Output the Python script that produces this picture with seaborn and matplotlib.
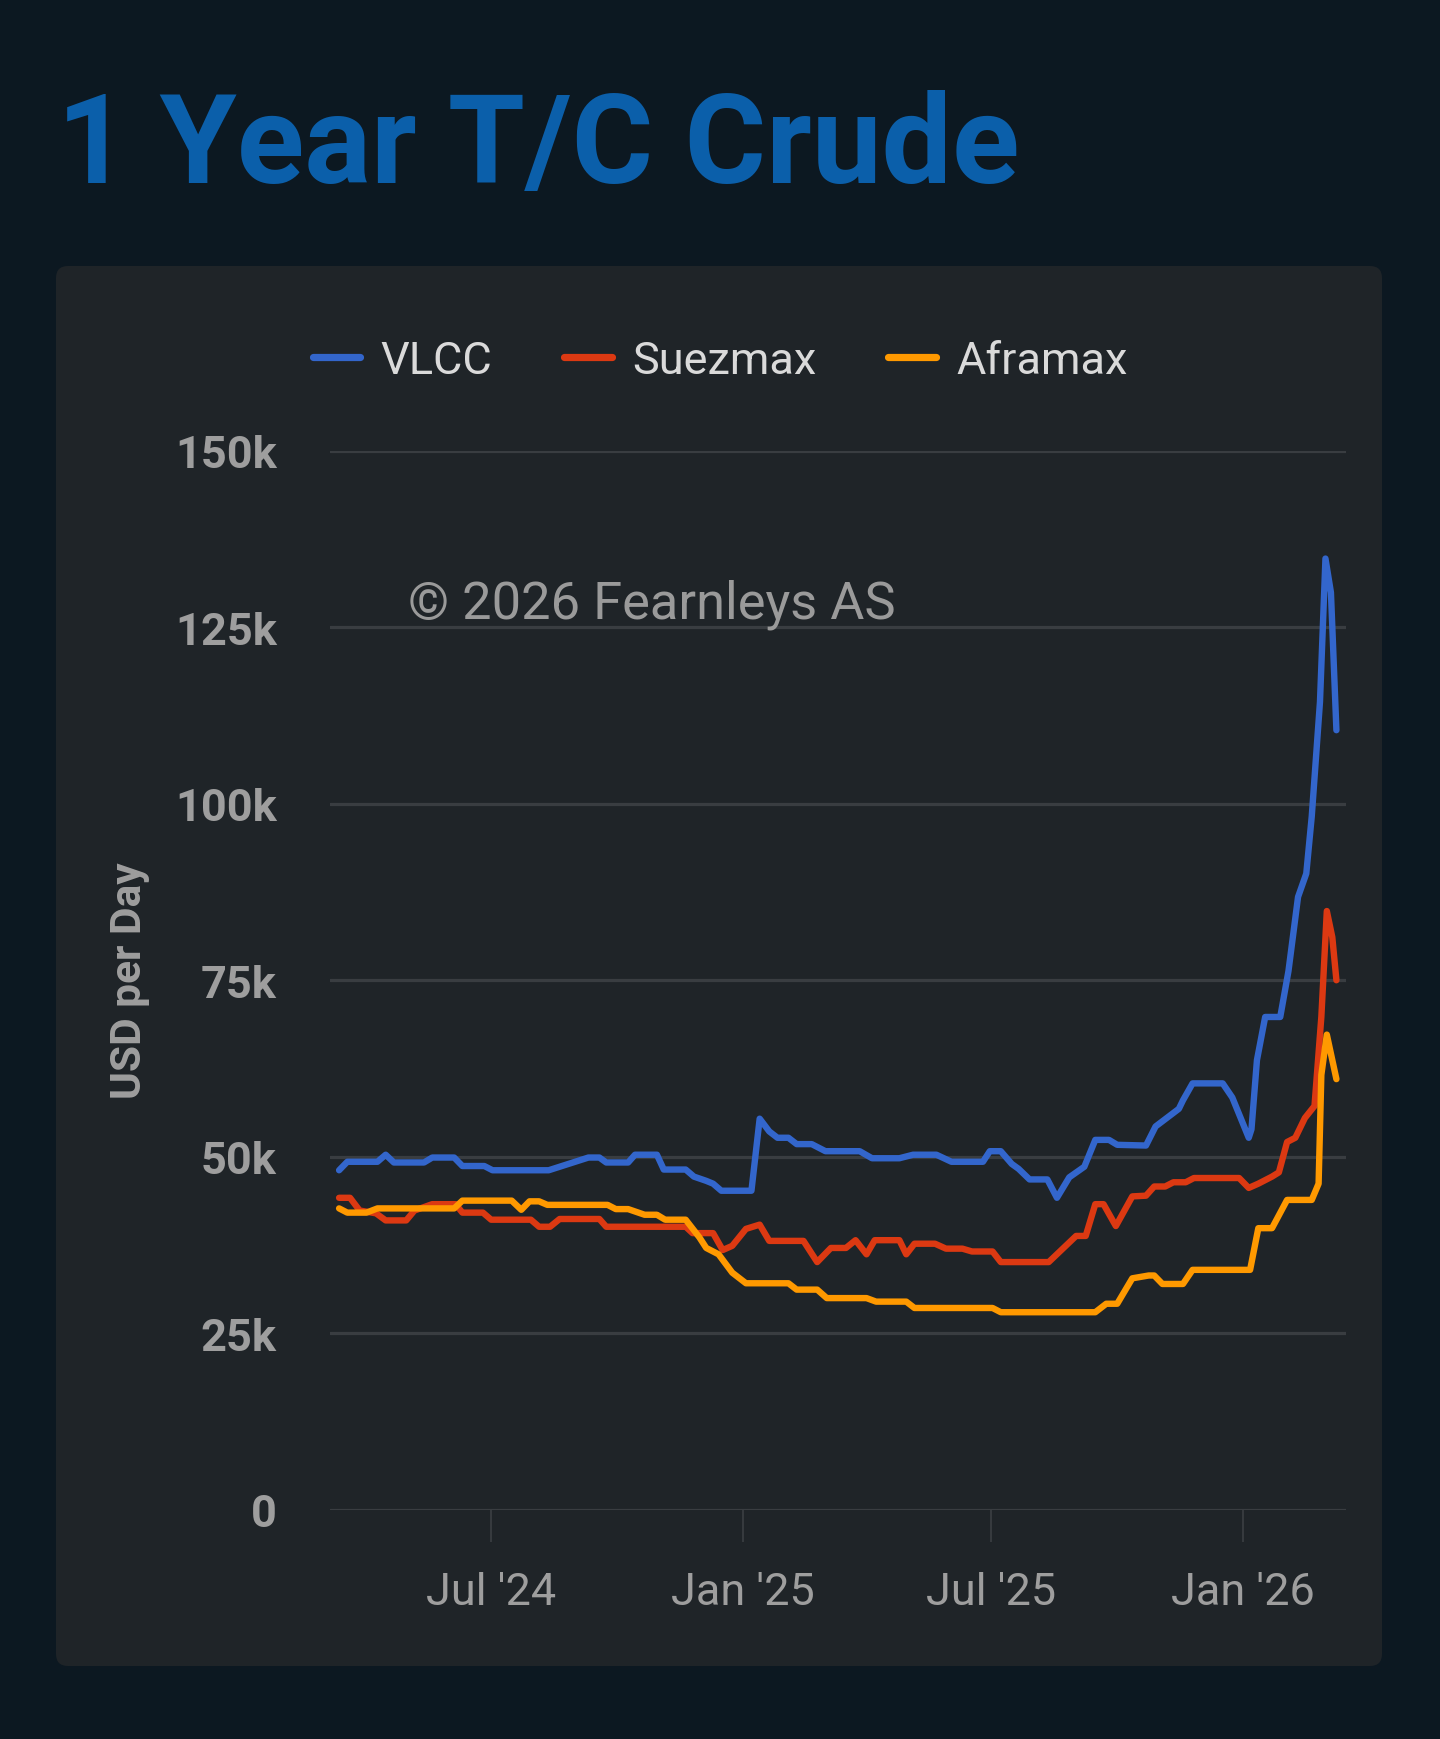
import pandas as pd
import numpy as np
import matplotlib
matplotlib.use("Agg")
import matplotlib.pyplot as plt
from matplotlib.patches import FancyBboxPatch
import seaborn as sns

# ─────────────────────────────────────────────
# DATA (USD per day, thousands)
# ─────────────────────────────────────────────
vlcc_dates = [
    "2024-03-12", "2024-03-18", "2024-04-09", "2024-04-15", "2024-04-21", "2024-05-13",
    "2024-05-19", "2024-06-04", "2024-06-10", "2024-06-26", "2024-07-02", "2024-08-12",
    "2024-09-10", "2024-09-18", "2024-09-23", "2024-10-09", "2024-10-14", "2024-10-30",
    "2024-11-04", "2024-11-20", "2024-11-26", "2024-12-05", "2024-12-10", "2024-12-16",
    "2025-01-07", "2025-01-13", "2025-01-20", "2025-01-26", "2025-02-03", "2025-02-09",
    "2025-02-20", "2025-03-02", "2025-03-27", "2025-04-05", "2025-04-25", "2025-05-05",
    "2025-05-22", "2025-06-02", "2025-06-25", "2025-06-30", "2025-07-08", "2025-07-16",
    "2025-07-21", "2025-07-29", "2025-08-11", "2025-08-18", "2025-08-27", "2025-09-07",
    "2025-09-15", "2025-09-25", "2025-10-01", "2025-10-22", "2025-10-29", "2025-11-15",
    "2025-11-18", "2025-11-25", "2025-12-17", "2025-12-24", "2026-01-05", "2026-01-07",
    "2026-01-11", "2026-01-17", "2026-01-28", "2026-02-03", "2026-02-10", "2026-02-16",
    "2026-02-20", "2026-02-26", "2026-03-02", "2026-03-06", "2026-03-10",
]
vlcc_values = [
    48.1, 49.3, 49.3, 50.3, 49.2, 49.2, 49.9, 49.9, 48.7, 48.7, 48.1, 48.1,
    49.9, 49.9, 49.2, 49.2, 50.3, 50.3, 48.2, 48.2, 47.2, 46.6, 46.2, 45.2,
    45.2, 55.4, 53.6, 52.7, 52.7, 51.8, 51.8, 50.8, 50.8, 49.8, 49.8, 50.3,
    50.3, 49.3, 49.3, 50.8, 50.8, 49.0, 48.3, 46.8, 46.8, 44.2, 47.1, 48.6,
    52.4, 52.4, 51.7, 51.6, 54.3, 56.8, 58.0, 60.4, 60.4, 58.4, 52.7, 53.9,
    63.7, 69.8, 69.8, 76.3, 86.8, 90.1, 98.2, 114.4, 134.7, 129.9, 110.4,
]

suezmax_dates = [
    "2024-03-12", "2024-03-20", "2024-03-27", "2024-04-08", "2024-04-15", "2024-04-30",
    "2024-05-06", "2024-05-19", "2024-06-05", "2024-06-10", "2024-06-25", "2024-07-01",
    "2024-07-30", "2024-08-05", "2024-08-13", "2024-08-20", "2024-09-18", "2024-09-23",
    "2024-11-20", "2024-11-25", "2024-12-10", "2024-12-17", "2024-12-24", "2025-01-03",
    "2025-01-13", "2025-01-20", "2025-02-14", "2025-02-24", "2025-03-06", "2025-03-17",
    "2025-03-24", "2025-04-01", "2025-04-07", "2025-04-25", "2025-04-30", "2025-05-06",
    "2025-05-21", "2025-05-29", "2025-06-10", "2025-06-17", "2025-07-02", "2025-07-08",
    "2025-08-12", "2025-09-01", "2025-09-08", "2025-09-15", "2025-09-21", "2025-09-30",
    "2025-10-12", "2025-10-22", "2025-10-28", "2025-11-05", "2025-11-11", "2025-11-20",
    "2025-11-26", "2025-12-29", "2026-01-05", "2026-01-12", "2026-01-22", "2026-01-27",
    "2026-02-02", "2026-02-08", "2026-02-15", "2026-02-22", "2026-02-27", "2026-03-03",
    "2026-03-07", "2026-03-10",
]
suezmax_values = [
    44.2, 44.2, 42.4, 42.0, 41.0, 41.0, 42.4, 43.3, 43.3, 42.1, 42.1, 41.1,
    41.1, 40.1, 40.1, 41.2, 41.2, 40.1, 40.1, 39.2, 39.2, 36.8, 37.4, 39.8,
    40.4, 38.1, 38.1, 35.1, 37.1, 37.1, 38.2, 36.2, 38.2, 38.2, 36.2, 37.7,
    37.7, 37.0, 37.0, 36.6, 36.6, 35.1, 35.1, 38.8, 38.8, 43.3, 43.3, 40.2,
    44.4, 44.5, 45.8, 45.8, 46.4, 46.4, 47.0, 47.0, 45.6, 46.2, 47.2, 47.8,
    52.1, 52.7, 55.5, 57.2, 69.8, 84.8, 81.1, 75.0,
]

aframax_dates = [
    "2024-03-12", "2024-03-18", "2024-04-01", "2024-04-09", "2024-06-04", "2024-06-10",
    "2024-07-16", "2024-07-23", "2024-07-29", "2024-08-05", "2024-08-11", "2024-09-24",
    "2024-09-30", "2024-10-09", "2024-10-21", "2024-10-30", "2024-11-05", "2024-11-20",
    "2024-11-30", "2024-12-05", "2024-12-14", "2024-12-24", "2025-01-03", "2025-02-03",
    "2025-02-09", "2025-02-24", "2025-03-03", "2025-04-01", "2025-04-08", "2025-04-30",
    "2025-05-06", "2025-07-02", "2025-07-08", "2025-09-15", "2025-09-23", "2025-10-01",
    "2025-10-12", "2025-10-24", "2025-10-28", "2025-11-03", "2025-11-18", "2025-11-25",
    "2026-01-06", "2026-01-12", "2026-01-22", "2026-02-02", "2026-02-20", "2026-02-25",
    "2026-02-27", "2026-03-03", "2026-03-10",
]
aframax_values = [
    42.7, 42.1, 42.1, 42.7, 42.7, 43.8, 43.8, 42.5, 43.7, 43.7, 43.2, 43.2,
    42.6, 42.6, 41.8, 41.8, 41.1, 41.1, 38.6, 37.1, 36.2, 33.6, 32.1, 32.1,
    31.2, 31.2, 30.0, 30.0, 29.5, 29.5, 28.6, 28.6, 28.0, 28.0, 29.2, 29.2,
    32.8, 33.2, 33.2, 32.0, 32.0, 34.0, 34.0, 39.9, 39.9, 43.9, 43.9, 46.2,
    61.6, 67.3, 61.0,
]

series_names = ["VLCC", "Suezmax", "Aframax"]
series_colors = ["#3366CC", "#DC3912", "#FF9900"]
tick_dates = ["2024-07-01", "2025-01-01", "2025-07-01", "2026-01-01"]
tick_labels = ["Jul '24", "Jan '25", "Jul '25", "Jan '26"]
y_ticks = [0, 25000, 50000, 75000, 100000, 125000, 150000]

# ─────────────────────────────────────────────
# LONG FORMAT
# ─────────────────────────────────────────────
frames = []
for name, d, v in zip(series_names,
                      [vlcc_dates, suezmax_dates, aframax_dates],
                      [vlcc_values, suezmax_values, aframax_values]):
    frames.append(pd.DataFrame({"date": pd.to_datetime(d),
                                "rate": np.array(v) * 1000,
                                "vessel": name}))
df = pd.concat(frames, ignore_index=True)

# ─────────────────────────────────────────────
# STYLE
# ─────────────────────────────────────────────
BG = "#0C1821"
CARD = "#1F2428"
GRID = "#393D41"
TICK_TXT = "#9E9E9E"

sns.set_theme(style="dark")
plt.rcParams["font.family"] = ["Roboto", "DejaVu Sans"]

fig = plt.figure(figsize=(14.4, 17.4), dpi=100, facecolor=BG)

# rounded card behind the chart
card = FancyBboxPatch((0.56, 0.73), 13.26, 14.0,
                      boxstyle="round,pad=0,rounding_size=0.12",
                      transform=fig.dpi_scale_trans,
                      facecolor=CARD, edgecolor="none", zorder=-5)
fig.patches.append(card)

fig.text(0.0396, 1 - 183 / 1740, "1 Year T/C Crude", fontsize=89.8,
         fontweight="bold", color="#0B5FAA", ha="left", va="baseline")

ax = fig.add_axes([329.5 / 1440, 1 - 1511 / 1740, (1346 - 329.5) / 1440, (1511 - 451.5) / 1740])
ax.set_facecolor("none")

sns.lineplot(data=df, x="date", y="rate", hue="vessel", hue_order=series_names,
             palette=series_colors, estimator=None, linewidth=4.6, ax=ax, zorder=3)
for line in ax.get_lines():
    line.set_solid_joinstyle("round")
    line.set_solid_capstyle("round")

ax.set_ylim(0, 150000)
ax.set_xlim(pd.Timestamp("2024-03-05"), pd.Timestamp("2026-03-17"))
ax.set_yticks(y_ticks)
ax.set_yticklabels(["0" if t == 0 else f"{t // 1000}k" for t in y_ticks],
                   fontweight="bold", fontsize=32.5, color=TICK_TXT)
ax.set_xticks(pd.to_datetime(tick_dates))
ax.set_xticklabels(tick_labels, fontsize=32.4, color=TICK_TXT)

ax.grid(False)
for t in y_ticks:
    ax.axhline(t, color=GRID, linewidth=2.3, zorder=1)
for s in ax.spines.values():
    s.set_visible(False)
ax.tick_params(axis="y", length=0, pad=38)
ax.tick_params(axis="x", length=23, width=1.3, color=GRID, direction="out",
               pad=21, bottom=True)

ax.set_xlabel("")
ax.set_ylabel("USD per Day", fontsize=30.5, fontweight="bold", color=TICK_TXT)
ax.yaxis.label.set_verticalalignment("center")
ax.yaxis.set_label_coords((129.5 - 329.5) / 1016.5, 0.5)

ax.text(0.0772, 0.8428, "\u00a9 2026 Fearnleys AS", transform=ax.transAxes,
        fontsize=37.7, color="#9A9A9A", ha="left", va="baseline", zorder=2)

# legend centred above the plot
handles, labels = ax.get_legend_handles_labels()
ax.get_legend().remove()
leg = fig.legend(handles, labels, loc="center", bbox_to_anchor=(0.5, 1 - 362 / 1740),
                 ncol=3, frameon=False, fontsize=32.5, handlelength=1.05,
                 handletextpad=0.45, columnspacing=1.6)
for h in leg.legend_handles:
    h.set_linewidth(5.2)
    h.set_solid_capstyle("round")
for txt in leg.get_texts():
    txt.set_color("#DADADA")

fig.savefig("out.png", dpi=100, facecolor=BG)
